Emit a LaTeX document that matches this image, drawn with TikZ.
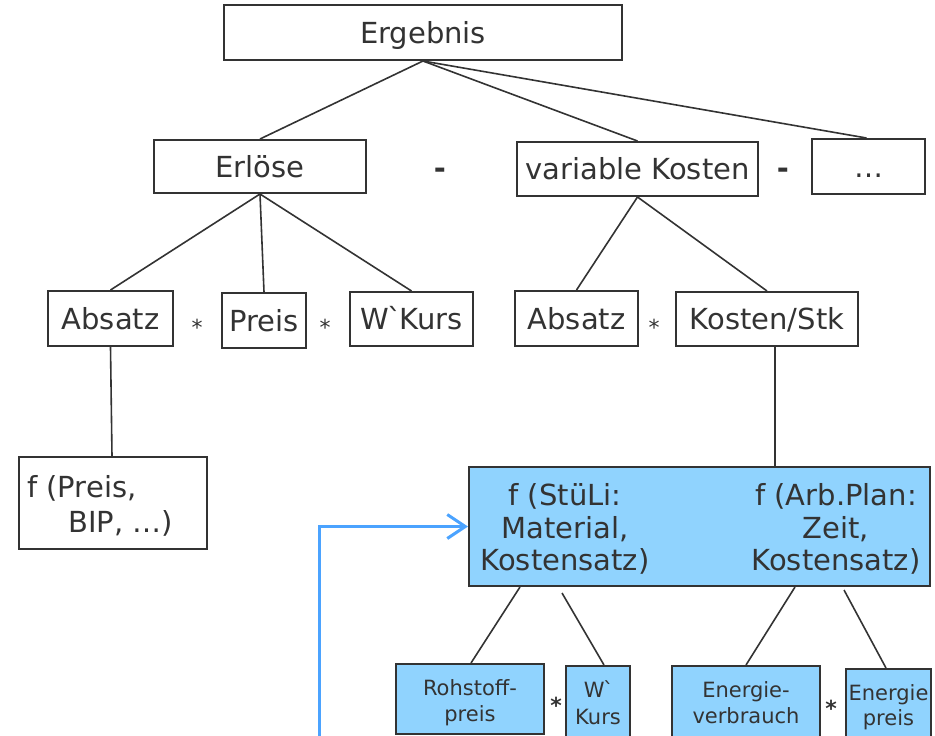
\documentclass[tikz,border=0pt]{standalone}
\usepackage{fontspec}
\setmainfont{DejaVu Sans}
\newfontfamily\rawfont{DejaVu Sans}[Ligatures=TeXOff]
\usetikzlibrary{arrows.meta}
\definecolor{ink}{HTML}{333333}
\definecolor{boxblue}{HTML}{90D3FE}
\definecolor{flowblue}{HTML}{4BA3FF}
\newcommand{\gravetick}{\kern-0.07em{\rawfont\symbol{96}}\kern-0.07em}
\begin{document}
\begin{tikzpicture}[x=1pt,y=-1pt,
  box/.style={draw=ink, line width=2pt, inner sep=0pt, text=ink,
    font=\fontsize{29}{34}\selectfont, text height=21.1pt, text depth=0pt},
  bluebox/.style={box, fill=boxblue},
  conn/.style={draw=ink, line width=1.6pt},
  txt/.style={inner sep=0pt, anchor=base, text=ink, font=\fontsize{29}{34}\selectfont},
  small/.style={inner sep=0pt, anchor=base, text=ink, font=\fontsize{21}{26}\selectfont},
  minus/.style={inner sep=0pt, anchor=base, text=ink, font=\fontsize{29}{34}\selectfont\bfseries},
  times/.style={inner sep=0pt, anchor=base, text=ink, font=\fontsize{22}{26}\selectfont},
  btimes/.style={times, font=\fontsize{22}{26}\selectfont\bfseries},
  flow/.style={draw=flowblue, line width=3pt, -{Straight Barb[length=18pt,width=24pt]}}]
\useasboundingbox (0,0) rectangle (935,736);
\clip (0,0) rectangle (935,736);

% top level
\node[box, minimum width=398, minimum height=55] (erg) at (423,32.5) {Ergebnis};

% second level
\node[box, minimum width=212, minimum height=53] (erl) at (260,166.5) {Erlöse};
\node[minus] (m1) at (440,178) {-};
\node[box, minimum width=241, minimum height=54] (vk) at (637.5,169) {variable Kosten};
\node[minus] (m2) at (783,178) {-};
\node[box, minimum width=113, minimum height=55] (dots) at (868.5,166.5) {…};

% third level
\node[box, minimum width=125, minimum height=55] (abs1) at (110.5,318.5) {Absatz};
\node[times] (t1) at (197,335) {*};
\node[box, minimum width=84, minimum height=55] (preis) at (264,320.5) {Preis};
\node[times] (t2) at (325,335) {*};
\node[box, minimum width=123, minimum height=54] (wk) at (411.5,319) {W\gravetick Kurs};
\node[box, minimum width=123, minimum height=55] (abs2) at (576.5,318.5) {Absatz};
\node[times] (t3) at (654,335) {*};
\node[box, minimum width=182, minimum height=54] (kst) at (767,319) {Kosten/Stk};

% demand function
\node[box, minimum width=188, minimum height=92] (fpb) at (113,503) {};
\node[txt, anchor=base west] (p1) at (27,497) {f (Preis,};
\node[txt, anchor=base west] (p2) at (68,532) {BIP, …)};

% unit cost functions
\node[bluebox, minimum width=461, minimum height=119] (blue) at (699.5,526.5) {};
\node[txt] (l1) at (565,505) {f (StüLi:};
\node[txt] (l2) at (565,538) {Material,};
\node[txt] (l3) at (565,570) {Kostensatz)};
\node[txt] (r1) at (836,505) {f (Arb.Plan:};
\node[txt] (r2) at (836,538) {Zeit,};
\node[txt] (r3) at (836,570) {Kostensatz)};

% cost drivers
\node[bluebox, minimum width=148, minimum height=70] (roh) at (470,699) {};
\node[small] (roh1) at (470,695) {Rohstoff-};
\node[small] (roh2) at (470,721) {preis};
\node[btimes] (t4) at (556,713) {*};
\node[bluebox, minimum width=64, minimum height=94] (wk2) at (598,713) {};
\node[small] (wk21) at (598,697) {W\gravetick};
\node[small] (wk22) at (598,724) {Kurs};
\node[bluebox, minimum width=148, minimum height=94] (ev) at (746,713) {};
\node[small] (ev1) at (746,697) {Energie-};
\node[small] (ev2) at (746,723) {verbrauch};
\node[btimes] (t5) at (831,716) {*};
\node[bluebox, minimum width=85, minimum height=91] (ep) at (888.5,714.5) {};
\node[small] (ep1) at (888.5,700) {Energie};
\node[small] (ep2) at (888.5,725) {preis};

% tree connectors
\draw[conn] (erg.south) -- (erl.north);
\draw[conn] (erg.south) -- (vk.north);
\draw[conn] (erg.south) -- ([xshift=-2]dots.north);
\draw[conn] (erl.south) -- (abs1.north);
\draw[conn] (erl.south) -- (preis.north);
\draw[conn] (erl.south) -- (wk.north);
\draw[conn] (vk.south) -- (abs2.north);
\draw[conn] (vk.south) -- (kst.north);
\draw[conn] (abs1.south) -- ([xshift=-1]fpb.north);
\coordinate (kd) at ([xshift=8]kst.south);
\draw[conn] (kd) -- (kd |- blue.north);
\draw[conn] ([xshift=-179.5]blue.south) -- ([xshift=1]roh.north);
\draw[conn] ([xshift=-137.5,yshift=-6]blue.south) -- ([xshift=6]wk2.north);
\draw[conn] ([xshift=95.5]blue.south) -- (ev.north);
\draw[conn] ([xshift=144.5,yshift=-3]blue.south) -- ([xshift=-2.5]ep.north);

% feedback arrow
\coordinate (fb) at (319,745);
\draw[flow] (fb) |- (blue.west);
\end{tikzpicture}
\end{document}
